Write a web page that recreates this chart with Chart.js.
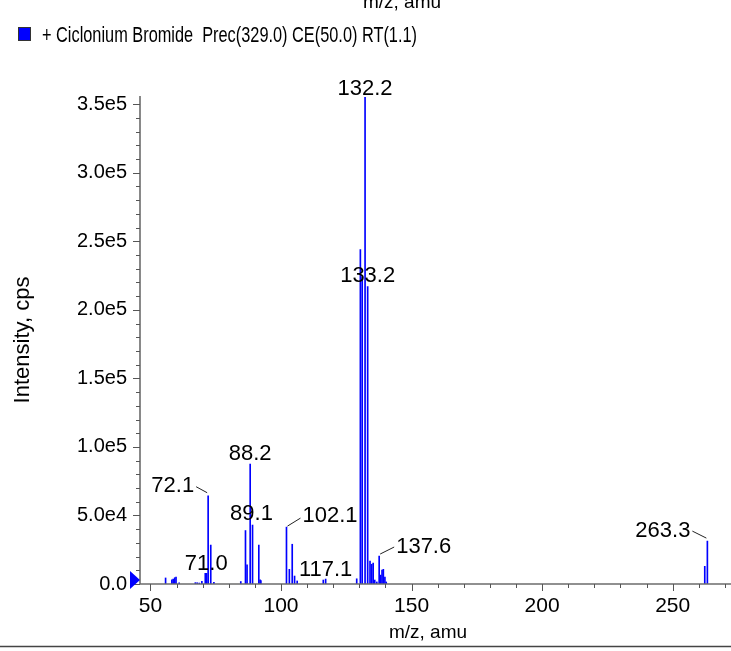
<!DOCTYPE html>
<html>
<head>
<meta charset="utf-8">
<script src="https://cdn.jsdelivr.net/npm/chart.js@4.4.1/dist/chart.umd.min.js"></script>
<style>
  html, body { margin: 0; padding: 0; background: #fff; }
  canvas { display: block; }
</style>
</head>
<body>
<canvas id="spectrum" width="731" height="651"></canvas>
<script>
// peak positions (m/z) and intensities (cps)
const mz = [55.8, 58.2, 58.7, 59.3, 59.8, 61.0, 67.2, 67.9, 68.7, 69.7,
  71.0, 71.5, 72.1, 73.1, 74.3, 84.6, 86.4, 87.0, 88.2, 89.1,
  91.5, 92.0, 92.3, 102.1, 103.2, 104.3, 105.2, 106.2, 116.2, 117.1,
  129.0, 130.4, 131.1, 132.2, 133.2, 134.1, 134.7, 135.3, 135.9, 136.7,
  137.6, 138.2, 138.7, 139.2, 139.8, 140.3, 262.3, 263.3];
const intensity = [4400, 3000, 3600, 4600, 5000, 800, 1000, 900, 700, 2000,
  7800, 7800, 64400, 28400, 1200, 1800, 39000, 14000, 87500, 43000,
  28400, 3000, 2500, 41500, 10700, 29000, 5800, 2200, 2900, 3600,
  3800, 244000, 224000, 355000, 217000, 16800, 14400, 15300, 2900, 1500,
  20400, 6500, 10200, 10700, 5100, 1500, 12900, 31300];

// labelled peaks
const labelMz = [132.2, 133.2, 88.2, 89.1, 72.1, 71.0, 102.1, 117.1, 137.6, 263.3];

const xMajor = [50, 100, 150, 200, 250];
const xTickLabels = ["50", "100", "150", "200", "250"];
const yMajor = [0, 50000, 100000, 150000, 200000, 250000, 300000, 350000];
const yTickLabels = ["0.0", "5.0e4", "1.0e5", "1.5e5", "2.0e5", "2.5e5", "3.0e5", "3.5e5"];

const seriesName = "+ Ciclonium Bromide  Prec(329.0) CE(50.0) RT(1.1)";
const xTitle = "m/z, amu";
const yTitle = "Intensity, cps";

// where each peak label sits relative to its peak top (layout only)
const labelPlace = [
  { align: "center", dx: 0, dy: -2 },
  { align: "center", dx: 0, dy: -5 },
  { align: "center", dx: 0, dy: -4 },
  { align: "center", dx: -1, dy: -5 },
  { align: "right", dx: -14, dy: -4, lead: [-12, -9, -1, -3] },
  { align: "center", dx: 1, dy: -3 },
  { align: "left", dx: 16, dy: -5, lead: [1, -1, 14, -9] },
  { align: "center", dx: 0, dy: -3 },
  { align: "left", dx: 17, dy: -3, lead: [1, -2, 15, -9] },
  { align: "right", dx: -17, dy: -4, lead: [-15, -10, -1, -3] }
];

const FONT = '"Liberation Sans", Arial, Helvetica, sans-serif';
const BLUE = "rgb(0, 0, 255)";

const decor = {
  id: "decor",
  afterDraw(chart) {
    const { ctx, chartArea: a, scales: { x, y } } = chart;
    ctx.save();

    // axis lines
    ctx.strokeStyle = "#6c6c6c";
    ctx.lineWidth = 1.6;
    ctx.beginPath();
    ctx.moveTo(a.left, a.top);
    ctx.lineTo(a.left, a.bottom);
    ctx.lineTo(chart.width, a.bottom);
    ctx.stroke();

    // tick marks, long on labelled values
    ctx.lineWidth = 1;
    ctx.strokeStyle = "#555";
    ctx.beginPath();
    y.ticks.forEach(t => {
      const py = Math.round(y.getPixelForValue(t.value)) + 0.5;
      const len = yMajor.includes(t.value) ? 7 : 4;
      ctx.moveTo(a.left - len, py);
      ctx.lineTo(a.left, py);
    });
    x.ticks.forEach(t => {
      const px = Math.round(x.getPixelForValue(t.value)) + 0.5;
      const len = xMajor.includes(t.value) ? 7 : 4;
      ctx.moveTo(px, a.bottom);
      ctx.lineTo(px, a.bottom + len);
    });
    ctx.stroke();

    // marker at the origin
    const y0 = y.getPixelForValue(0) - 4;
    ctx.fillStyle = BLUE;
    ctx.beginPath();
    ctx.moveTo(a.left - 10, y0 - 9);
    ctx.lineTo(a.left, y0);
    ctx.lineTo(a.left - 10, y0 + 9);
    ctx.closePath();
    ctx.fill();

    // peak labels
    ctx.fillStyle = "#000";
    ctx.font = "22px " + FONT;
    ctx.textBaseline = "alphabetic";
    labelMz.forEach((m, i) => {
      const k = mz.indexOf(m);
      const px = x.getPixelForValue(m);
      const py = y.getPixelForValue(intensity[k]);
      const p = labelPlace[i];
      ctx.textAlign = p.align;
      ctx.fillText(m.toFixed(1), px + p.dx, py + p.dy);
      if (p.lead) {
        ctx.strokeStyle = "#222";
        ctx.lineWidth = 1;
        ctx.beginPath();
        ctx.moveTo(px + p.lead[0], py + p.lead[1]);
        ctx.lineTo(px + p.lead[2], py + p.lead[3]);
        ctx.stroke();
      }
    });

    // axis titles
    ctx.textAlign = "center";
    ctx.textBaseline = "middle";
    ctx.font = "19px " + FONT;
    ctx.fillText(xTitle, 428, 633);
    ctx.save();
    ctx.font = "22px " + FONT;
    ctx.translate(23, 340);
    ctx.rotate(-Math.PI / 2);
    ctx.fillText(yTitle, 0, 0);
    ctx.restore();

    // cut-off title of the panel above
    ctx.textBaseline = "alphabetic";
    ctx.fillText(xTitle, 402, 8);

    // legend
    ctx.fillStyle = BLUE;
    ctx.fillRect(18, 27, 13, 14);
    ctx.strokeStyle = "#333";
    ctx.lineWidth = 1;
    ctx.strokeRect(18.5, 27.5, 12, 13);
    ctx.fillStyle = "#000";
    ctx.textAlign = "left";
    ctx.textBaseline = "middle";
    ctx.font = "22px " + FONT;
    const w = ctx.measureText(seriesName).width;
    ctx.save();
    ctx.translate(42, 36);
    ctx.scale(375 / w, 1);
    ctx.fillText(seriesName, 0, 0);
    ctx.restore();

    // frame line at the bottom
    ctx.strokeStyle = "#444";
    ctx.lineWidth = 1.5;
    ctx.beginPath();
    ctx.moveTo(0, 646.5);
    ctx.lineTo(chart.width, 646.5);
    ctx.stroke();

    ctx.restore();
  }
};

const ctx = document.getElementById("spectrum").getContext("2d");
new Chart(ctx, {
  type: "bar",
  data: {
    datasets: [{
      label: seriesName,
      data: mz.map((m, i) => ({ x: m, y: intensity[i] })),
      backgroundColor: BLUE,
      borderWidth: 0,
      barThickness: 1,
      grouped: false
    }]
  },
  options: {
    responsive: false,
    devicePixelRatio: 1,
    animation: false,
    events: [],
    layout: { padding: { top: 96, left: 0, right: 0, bottom: 0 } },
    plugins: { legend: { display: false }, tooltip: { enabled: false } },
    scales: {
      x: {
        type: "linear",
        min: 46.0,
        max: 272.35,
        offset: false,
        grid: { display: false, drawTicks: true, tickLength: 7 },
        border: { display: false },
        afterBuildTicks: s => {
          const t = [];
          for (let v = 50; v <= 270; v += 10) t.push({ value: v });
          s.ticks = t;
        },
        afterFit: s => { s.height = 67; },
        ticks: {
          autoSkip: false,
          maxRotation: 0,
          padding: 3,
          color: "#000",
          font: { family: FONT, size: 21 },
          callback: v => {
            const i = xMajor.indexOf(v);
            return i >= 0 ? xTickLabels[i] : "";
          }
        }
      },
      y: {
        min: 0,
        max: 356000,
        grid: { display: false, drawTicks: true, tickLength: 8 },
        border: { display: false },
        afterBuildTicks: s => {
          const t = [];
          for (let v = 0; v <= 350000; v += 10000) t.push({ value: v });
          s.ticks = t;
        },
        afterFit: s => { s.width = 140; },
        ticks: {
          autoSkip: false,
          padding: 5,
          color: "#000",
          font: { family: FONT, size: 20 },
          callback: v => {
            const i = yMajor.indexOf(v);
            return i >= 0 ? yTickLabels[i] : "";
          }
        }
      }
    }
  },
  plugins: [decor]
});
</script>
</body>
</html>
